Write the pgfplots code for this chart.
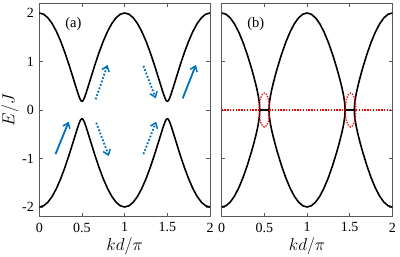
\documentclass[border=0pt]{standalone}
\usepackage{fontspec}
\setmainfont{Liberation Serif}
\usepackage{pgfplots}
\pgfplotsset{compat=1.18}
\usepackage{pgfplotstable}
\usetikzlibrary{arrows.meta}
\definecolor{mblue}{RGB}{0,114,189}

% panel (a): gapped bands
\pgfplotstableread{
x up lo
0 2.0 -2.0
0.05 1.9756 -1.9756
0.1 1.9029 -1.9029
0.15 1.7839 -1.7839
0.2 1.6214 -1.6214
0.25 1.4199 -1.4199
0.3 1.1845 -1.1845
0.35 0.9220 -0.9220
0.4 0.6411 -0.6411
0.425 0.4984 -0.4984
0.45 0.3595 -0.3595
0.46 0.3074 -0.3074
0.47 0.2594 -0.2594
0.475 0.2378 -0.2378
0.485 0.2024 -0.2024
0.49 0.1899 -0.1899
0.5 0.1793 -0.1793
0.51 0.1899 -0.1899
0.515 0.2024 -0.2024
0.525 0.2378 -0.2378
0.53 0.2594 -0.2594
0.54 0.3074 -0.3074
0.55 0.3595 -0.3595
0.575 0.4984 -0.4984
0.6 0.6411 -0.6411
0.65 0.9220 -0.9220
0.7 1.1845 -1.1845
0.75 1.4199 -1.4199
0.8 1.6214 -1.6214
0.85 1.7839 -1.7839
0.9 1.9029 -1.9029
0.95 1.9756 -1.9756
1 2.0 -2.0
1.05 1.9756 -1.9756
1.1 1.9029 -1.9029
1.15 1.7839 -1.7839
1.2 1.6214 -1.6214
1.25 1.4199 -1.4199
1.3 1.1845 -1.1845
1.35 0.9220 -0.9220
1.4 0.6411 -0.6411
1.425 0.4984 -0.4984
1.45 0.3595 -0.3595
1.46 0.3074 -0.3074
1.47 0.2594 -0.2594
1.475 0.2378 -0.2378
1.485 0.2024 -0.2024
1.49 0.1899 -0.1899
1.5 0.1793 -0.1793
1.51 0.1899 -0.1899
1.515 0.2024 -0.2024
1.525 0.2378 -0.2378
1.53 0.2594 -0.2594
1.54 0.3074 -0.3074
1.55 0.3595 -0.3595
1.575 0.4984 -0.4984
1.6 0.6411 -0.6411
1.65 0.9220 -0.9220
1.7 1.1845 -1.1845
1.75 1.4199 -1.4199
1.8 1.6214 -1.6214
1.85 1.7839 -1.7839
1.9 1.9029 -1.9029
1.95 1.9756 -1.9756
2 2.0 -2.0
}\bandA

% panel (b): real parts with flat zero segments
\pgfplotstableread{
x up lo
0 2.0 -2.0
0.05 1.9747 -1.9747
0.1 1.8992 -1.8992
0.15 1.7752 -1.7752
0.2 1.6053 -1.6053
0.25 1.3930 -1.3930
0.3 1.1420 -1.1420
0.35 0.8544 -0.8544
0.375 0.6958 -0.6958
0.4 0.5238 -0.5238
0.41 0.4490 -0.4490
0.42 0.3684 -0.3684
0.43 0.2774 -0.2774
0.44 0.1600 -0.1600
0.4435 0.0969 -0.0969
0.4445 0.0702 -0.0702
0.445 0.0522 -0.0522
0.4456 0 0
0.5544 0 0
0.555 0.0522 -0.0522
0.5555 0.0702 -0.0702
0.5565 0.0969 -0.0969
0.56 0.1600 -0.1600
0.57 0.2774 -0.2774
0.58 0.3684 -0.3684
0.59 0.4490 -0.4490
0.6 0.5238 -0.5238
0.625 0.6958 -0.6958
0.65 0.8544 -0.8544
0.7 1.1420 -1.1420
0.75 1.3930 -1.3930
0.8 1.6053 -1.6053
0.85 1.7752 -1.7752
0.9 1.8992 -1.8992
0.95 1.9747 -1.9747
1 2.0 -2.0
1.05 1.9747 -1.9747
1.1 1.8992 -1.8992
1.15 1.7752 -1.7752
1.2 1.6053 -1.6053
1.25 1.3930 -1.3930
1.3 1.1420 -1.1420
1.35 0.8544 -0.8544
1.375 0.6958 -0.6958
1.4 0.5238 -0.5238
1.41 0.4490 -0.4490
1.42 0.3684 -0.3684
1.43 0.2774 -0.2774
1.44 0.1600 -0.1600
1.4435 0.0969 -0.0969
1.4445 0.0702 -0.0702
1.445 0.0522 -0.0522
1.4456 0 0
1.5544 0 0
1.555 0.0522 -0.0522
1.5555 0.0702 -0.0702
1.5565 0.0969 -0.0969
1.56 0.1600 -0.1600
1.57 0.2774 -0.2774
1.58 0.3684 -0.3684
1.59 0.4490 -0.4490
1.6 0.5238 -0.5238
1.625 0.6958 -0.6958
1.65 0.8544 -0.8544
1.7 1.1420 -1.1420
1.75 1.3930 -1.3930
1.8 1.6053 -1.6053
1.85 1.7752 -1.7752
1.9 1.8992 -1.8992
1.95 1.9747 -1.9747
2 2.0 -2.0
}\bandB

\pgfplotsset{
  panel/.style={
    scale only axis, width=170.7pt, height=213.4pt,
    xmin=0, xmax=2, ymin=-2.2, ymax=2.2,
    xtick={0,0.5,1,1.5,2}, ytick={-2,-1,0,1,2},
    xticklabels={0,0.5,1,1.5,2},
    tick align=inside, xtick pos=both, ytick pos=both,
    major tick length=3.5pt,
    axis line style={draw=black!65, line width=0.7pt},
    tick style={black!65, line width=0.7pt},
    tick label style={font=\fontsize{14}{15}\selectfont},
    xticklabel style={anchor=north, yshift=-2.5pt},
    yticklabel style={anchor=east, xshift=-2pt},
    /pgf/number format/assume math mode=true,
    label style={font=\fontsize{18}{20}\selectfont},
    xlabel={$kd/\pi$},
    xlabel style={at={(axis description cs:0.5,-0.138)}, anchor=center},
    clip=true,
  },
  curve/.style={black, line width=1.6pt},
  sarrow/.style={mblue, line width=1.8pt, -{Straight Barb[length=5pt, width=7.5pt, line width=1.5pt]}},
  darrow/.style={mblue, line width=1.8pt, dash pattern=on 1.8pt off 1.8pt, -{Straight Barb[length=5pt, width=7.5pt, line width=1.5pt]}},
}

\begin{document}
\begin{tikzpicture}
\begin{axis}[panel, at={(0,0)},
  yticklabels={-2,-1,0,1,2},
  ylabel={$E/J$},
  ylabel style={at={(axis description cs:-0.172,0.5)}, anchor=center}]
\addplot[curve] table[x=x, y=up] {\bandA};
\addplot[curve] table[x=x, y=lo] {\bandA};
\addplot[sarrow] coordinates {(0.19,-0.91) (0.345,-0.24)};
\addplot[sarrow] coordinates {(1.68,0.24) (1.835,0.93)};
\addplot[darrow] coordinates {(0.66,0.22) (0.80,0.93)};
\addplot[darrow] coordinates {(1.22,0.91) (1.365,0.24)};
\addplot[darrow] coordinates {(0.667,-0.26) (0.815,-0.95)};
\addplot[darrow] coordinates {(1.22,-0.91) (1.37,-0.24)};
\node[font=\fontsize{14.5}{16}\selectfont] at (axis cs:0.40,1.78) {(a)};
\end{axis}
\begin{axis}[panel, at={(182.4pt,0)}, yticklabels={}]
\addplot[red, line width=1.4pt, dash pattern=on 1.4pt off 1.4pt] coordinates {(0,0) (2,0)};
\addplot[curve] table[x=x, y=up] {\bandB};
\addplot[curve] table[x=x, y=lo] {\bandB};
\draw[red, line width=1.3pt, dash pattern=on 1.3pt off 1.3pt] (axis cs:0.5,0) ellipse [x radius=0.062, y radius=0.35];
\draw[red, line width=1.3pt, dash pattern=on 1.3pt off 1.3pt] (axis cs:1.51,0) ellipse [x radius=0.062, y radius=0.35];
\node[font=\fontsize{14.5}{16}\selectfont] at (axis cs:0.40,1.78) {(b)};
\end{axis}
\pgfresetboundingbox
\path (-39.3pt,-40.3pt) rectangle (360.7pt,216.7pt);
\end{tikzpicture}
\end{document}
